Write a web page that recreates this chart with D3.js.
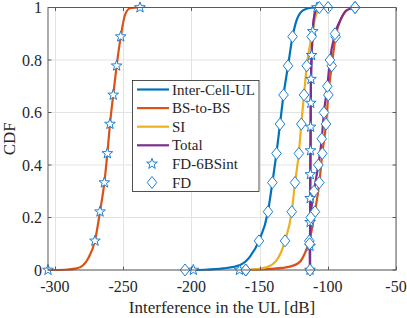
<!DOCTYPE html>
<html><head><meta charset="utf-8">
<script src="https://cdn.jsdelivr.net/npm/d3@7"></script>
<style>body{margin:0;background:#fff}svg{display:block}</style>
</head><body><svg id="c" width="407" height="318" font-family="'Liberation Serif', 'Times New Roman', Tinos, 'DejaVu Serif', serif"></svg>
<script>
// ---- axis ticks ----
const xTicks = [-300, -250, -200, -150, -100, -50];
const yTicks = [0, 0.2, 0.4, 0.6, 0.8, 1];
const yTickLabels = ["0", "0.2", "0.4", "0.6", "0.8", "1"];
const legendLabels = ["Inter-Cell-UL", "BS-to-BS", "SI", "Total", "FD-6BSint", "FD"];

// ---- FD-6BSint (stars) ----
const bsbs6LineX = [-305, -292.5, -284, -279.1, -275.5, -270.6, -266.9, -263.7, -261.5, -259.6, -257.2, -254.7, -251.7, -248.6, -244.9, -237.6];
const bsbs6LineY = [0, 0.001, 0.006, 0.019, 0.045, 0.111, 0.222, 0.333, 0.444, 0.556, 0.667, 0.778, 0.889, 0.971, 0.997, 1];
const bsbs6MarkX = [-305, -270.6, -266.9, -263.7, -261.5, -259.6, -257.2, -254.7, -251.7, -237.6];
const bsbs6MarkY = [0, 0.111, 0.222, 0.333, 0.444, 0.556, 0.667, 0.778, 0.889, 1];

const inter6MarkX = [-198.5];
const inter6MarkY = [0];
const si6MarkX = [-164.7];
const si6MarkY = [0];

const total6LineX = [-113.0, -113.0, -112.95, -112.9, -112.8, -112.65, -112.55, -112.45, -112.3, -111.8, -111.0, -109.6, -107.9];
const total6LineY = [0, 0.091, 0.182, 0.273, 0.364, 0.455, 0.545, 0.636, 0.727, 0.818, 0.909, 0.975, 1];
const total6MarkX = [-113.0, -113.0, -112.95, -112.9, -112.8, -112.65, -112.55, -112.45, -112.3, -111.8, -111.0, -107.9];
const total6MarkY = [0, 0.091, 0.182, 0.273, 0.364, 0.455, 0.545, 0.636, 0.727, 0.818, 0.909, 1];

// ---- FD (diamonds) ----
const interLineX = [-204.6, -190, -176.5, -164.3, -157.0, -150.4, -143.8, -140.6, -137.6, -135.0, -132.4, -129.1, -125.8, -122.8, -117.9, -112, -106.2];
const interLineY = [0, 0.001, 0.006, 0.019, 0.051, 0.111, 0.222, 0.333, 0.444, 0.556, 0.667, 0.778, 0.889, 0.952, 0.99, 0.999, 1];
const interMarkX = [-204.6, -150.4, -143.8, -140.6, -137.6, -135.0, -132.4, -129.1, -125.8, -106.2];
const interMarkY = [0, 0.111, 0.222, 0.333, 0.444, 0.556, 0.667, 0.778, 0.889, 1];

const siLineX = [-160.1, -153.4, -145.3, -137.9, -131.3, -126.4, -124.0, -121.2, -119.4, -117.4, -115.4, -111.8, -108.6, -105, -99.8];
const siLineY = [0, 0.002, 0.01, 0.034, 0.111, 0.222, 0.333, 0.444, 0.556, 0.667, 0.778, 0.889, 0.971, 0.996, 1];
const siMarkX = [-160.1, -131.3, -126.4, -124.0, -121.2, -119.4, -117.4, -115.4, -111.8, -99.8];
const siMarkY = [0, 0.111, 0.222, 0.333, 0.444, 0.556, 0.667, 0.778, 0.889, 1];

const bsbsLineX = [-160.1, -142.3, -127.7, -120.3, -116.7, -113.5, -109.4, -106.2, -104.0, -101.3, -99.6, -97.1, -94.2, -90, -86, -80];
const bsbsLineY = [0, 0.004, 0.013, 0.032, 0.065, 0.111, 0.222, 0.333, 0.444, 0.556, 0.667, 0.778, 0.889, 0.96, 0.99, 1];
const bsbsMarkX = [-160.1, -113.5, -109.4, -106.2, -104.0, -101.3, -99.6, -97.1, -94.2, -80];
const bsbsMarkY = [0, 0.111, 0.222, 0.333, 0.444, 0.556, 0.667, 0.778, 0.889, 1];

const totalLineX = [-113.0, -113.3, -112.5, -110.1, -106.9, -104.4, -102.8, -100.3, -98.4, -94.7, -90, -86, -80];
const totalLineY = [0, 0.1, 0.2, 0.3, 0.4, 0.5, 0.6, 0.7, 0.8, 0.9, 0.96, 0.99, 1];
const totalMarkX = [-113.0, -113.3, -112.5, -110.1, -106.9, -104.4, -102.8, -100.3, -98.4, -94.7, -80];
const totalMarkY = [0, 0.1, 0.2, 0.3, 0.4, 0.5, 0.6, 0.7, 0.8, 0.9, 1];

// ---- colours ----
const cBlue = "#0072BD", cOrange = "#D95319", cYellow = "#EDB120", cPurple = "#7E2F8E", cMark = "#1f7fd0";
const TXT = "#262626";

const svg = d3.select("#c");
const L = 48, R = 396, T = 7.5, B = 270;
const x = d3.scaleLinear().domain([-305, -50]).range([L, R]);
const y = d3.scaleLinear().domain([0, 1]).range([B, T]);

// grid
const g = svg.append("g");
g.selectAll(".gx").data(xTicks).join("line")
  .attr("x1", d => Math.round(x(d)) + 0.5).attr("x2", d => Math.round(x(d)) + 0.5)
  .attr("y1", T).attr("y2", B).attr("stroke", "#e3e3e3").attr("stroke-width", 1);
g.selectAll(".gy").data(yTicks).join("line")
  .attr("y1", d => y(d)).attr("y2", d => y(d))
  .attr("x1", L).attr("x2", R).attr("stroke", "#e3e3e3").attr("stroke-width", 1);

const zip = (xs, ys) => xs.map((v, i) => [v, ys[i]]);
const line = d3.line().x(d => x(d[0])).y(d => y(d[1])).curve(d3.curveMonotoneX);

const lines = [
  [bsbs6LineX, bsbs6LineY, cOrange],
  [total6LineX, total6LineY, cPurple],
  [bsbsLineX, bsbsLineY, cOrange],
  [interLineX, interLineY, cBlue],
  [siLineX, siLineY, cYellow],
  [totalLineX, totalLineY, cPurple]
];
const lg = svg.append("g");
lines.forEach(([xs, ys, c]) => {
  lg.append("path").attr("d", line(zip(xs, ys))).attr("fill", "none")
    .attr("stroke", c).attr("stroke-width", 2.2).attr("stroke-linejoin", "round");
});
lg.append("path").attr("d", line(zip(total6LineX, total6LineY))).attr("fill", "none")
  .attr("stroke", cPurple).attr("stroke-width", 2.2);

// markers
function starPath(R0, r0) {
  let p = [];
  for (let i = 0; i < 10; i++) {
    const a = -Math.PI / 2 + i * Math.PI / 5;
    const rr = i % 2 === 0 ? R0 : r0;
    p.push([rr * Math.cos(a), rr * Math.sin(a)]);
  }
  return "M" + p.map(q => q[0].toFixed(2) + "," + q[1].toFixed(2)).join("L") + "Z";
}
const STAR = starPath(5.6, 2.3);
const DIAM = "M0,-6L4.8,0L0,6L-4.8,0Z";
const mg = svg.append("g");
const starSets = [[bsbs6MarkX, bsbs6MarkY], [inter6MarkX, inter6MarkY], [si6MarkX, si6MarkY], [total6MarkX, total6MarkY]];
const diamSets = [[interMarkX, interMarkY], [siMarkX, siMarkY], [bsbsMarkX, bsbsMarkY], [totalMarkX, totalMarkY]];
starSets.forEach(([xs, ys]) => {
  mg.selectAll(null).data(zip(xs, ys)).join("path").attr("d", STAR)
    .attr("transform", d => `translate(${x(d[0])},${y(d[1])})`)
    .attr("fill", "#fff").attr("stroke", cMark).attr("stroke-width", 1);
});
diamSets.forEach(([xs, ys]) => {
  mg.selectAll(null).data(zip(xs, ys)).join("path").attr("d", DIAM)
    .attr("transform", d => `translate(${x(d[0])},${y(d[1])})`)
    .attr("fill", "#fff").attr("stroke", cMark).attr("stroke-width", 1);
});

// box and ticks
const ax = svg.append("g").attr("stroke", "#5a5a5a").attr("stroke-width", 1).attr("fill", "none");
ax.append("rect").attr("x", L).attr("y", T).attr("width", R - L).attr("height", B - T);
xTicks.forEach(t => {
  const px = Math.round(x(t)) + 0.5;
  ax.append("line").attr("x1", px).attr("x2", px).attr("y1", B).attr("y2", B - 3.5);
  ax.append("line").attr("x1", px).attr("x2", px).attr("y1", T).attr("y2", T + 3.5);
});
yTicks.forEach(t => {
  ax.append("line").attr("x1", L).attr("x2", L + 3.5).attr("y1", y(t)).attr("y2", y(t));
  ax.append("line").attr("x1", R).attr("x2", R - 3.5).attr("y1", y(t)).attr("y2", y(t));
});

// tick labels
svg.append("g").selectAll("text").data(xTicks).join("text")
  .attr("x", d => x(d)).attr("y", 291.5).attr("text-anchor", "middle").attr("fill", TXT)
  .attr("font-size", 16).text(d => d);
svg.append("g").selectAll("text").data(yTicks).join("text")
  .attr("x", 42).attr("y", d => y(d) + 5.5).attr("text-anchor", "end").attr("fill", TXT)
  .attr("font-size", 16).text((d, i) => yTickLabels[i]);

// axis titles
svg.append("text").attr("x", (L + R) / 2).attr("y", 313).attr("text-anchor", "middle").attr("fill", TXT)
  .attr("font-size", 17).text("Interference in the UL [dB]");
svg.append("text").attr("transform", `translate(15,${(T + B) / 2}) rotate(-90)`).attr("fill", TXT)
  .attr("text-anchor", "middle").attr("font-size", 17).text("CDF");

// legend
const leg = svg.append("g");
leg.append("rect").attr("x", 132.5).attr("y", 80.5).attr("width", 126.5).attr("height", 111)
  .attr("fill", "#fff").attr("stroke", "#262626").attr("stroke-width", 0.8);
const legColors = [cBlue, cOrange, cYellow, cPurple, null, null];
legendLabels.forEach((lab, i) => {
  const ly = 89.5 + 18.6 * i;
  if (i < 4) {
    leg.append("line").attr("x1", 137).attr("x2", 169).attr("y1", ly).attr("y2", ly)
      .attr("stroke", legColors[i]).attr("stroke-width", 2.2);
  } else {
    leg.append("path").attr("d", i === 4 ? STAR : DIAM).attr("transform", `translate(152,${ly})`)
      .attr("fill", "#fff").attr("stroke", cMark).attr("stroke-width", 1);
  }
  leg.append("text").attr("x", 172).attr("y", ly + 5).attr("font-size", 15).attr("fill", TXT).text(lab);
});
</script></body></html>
